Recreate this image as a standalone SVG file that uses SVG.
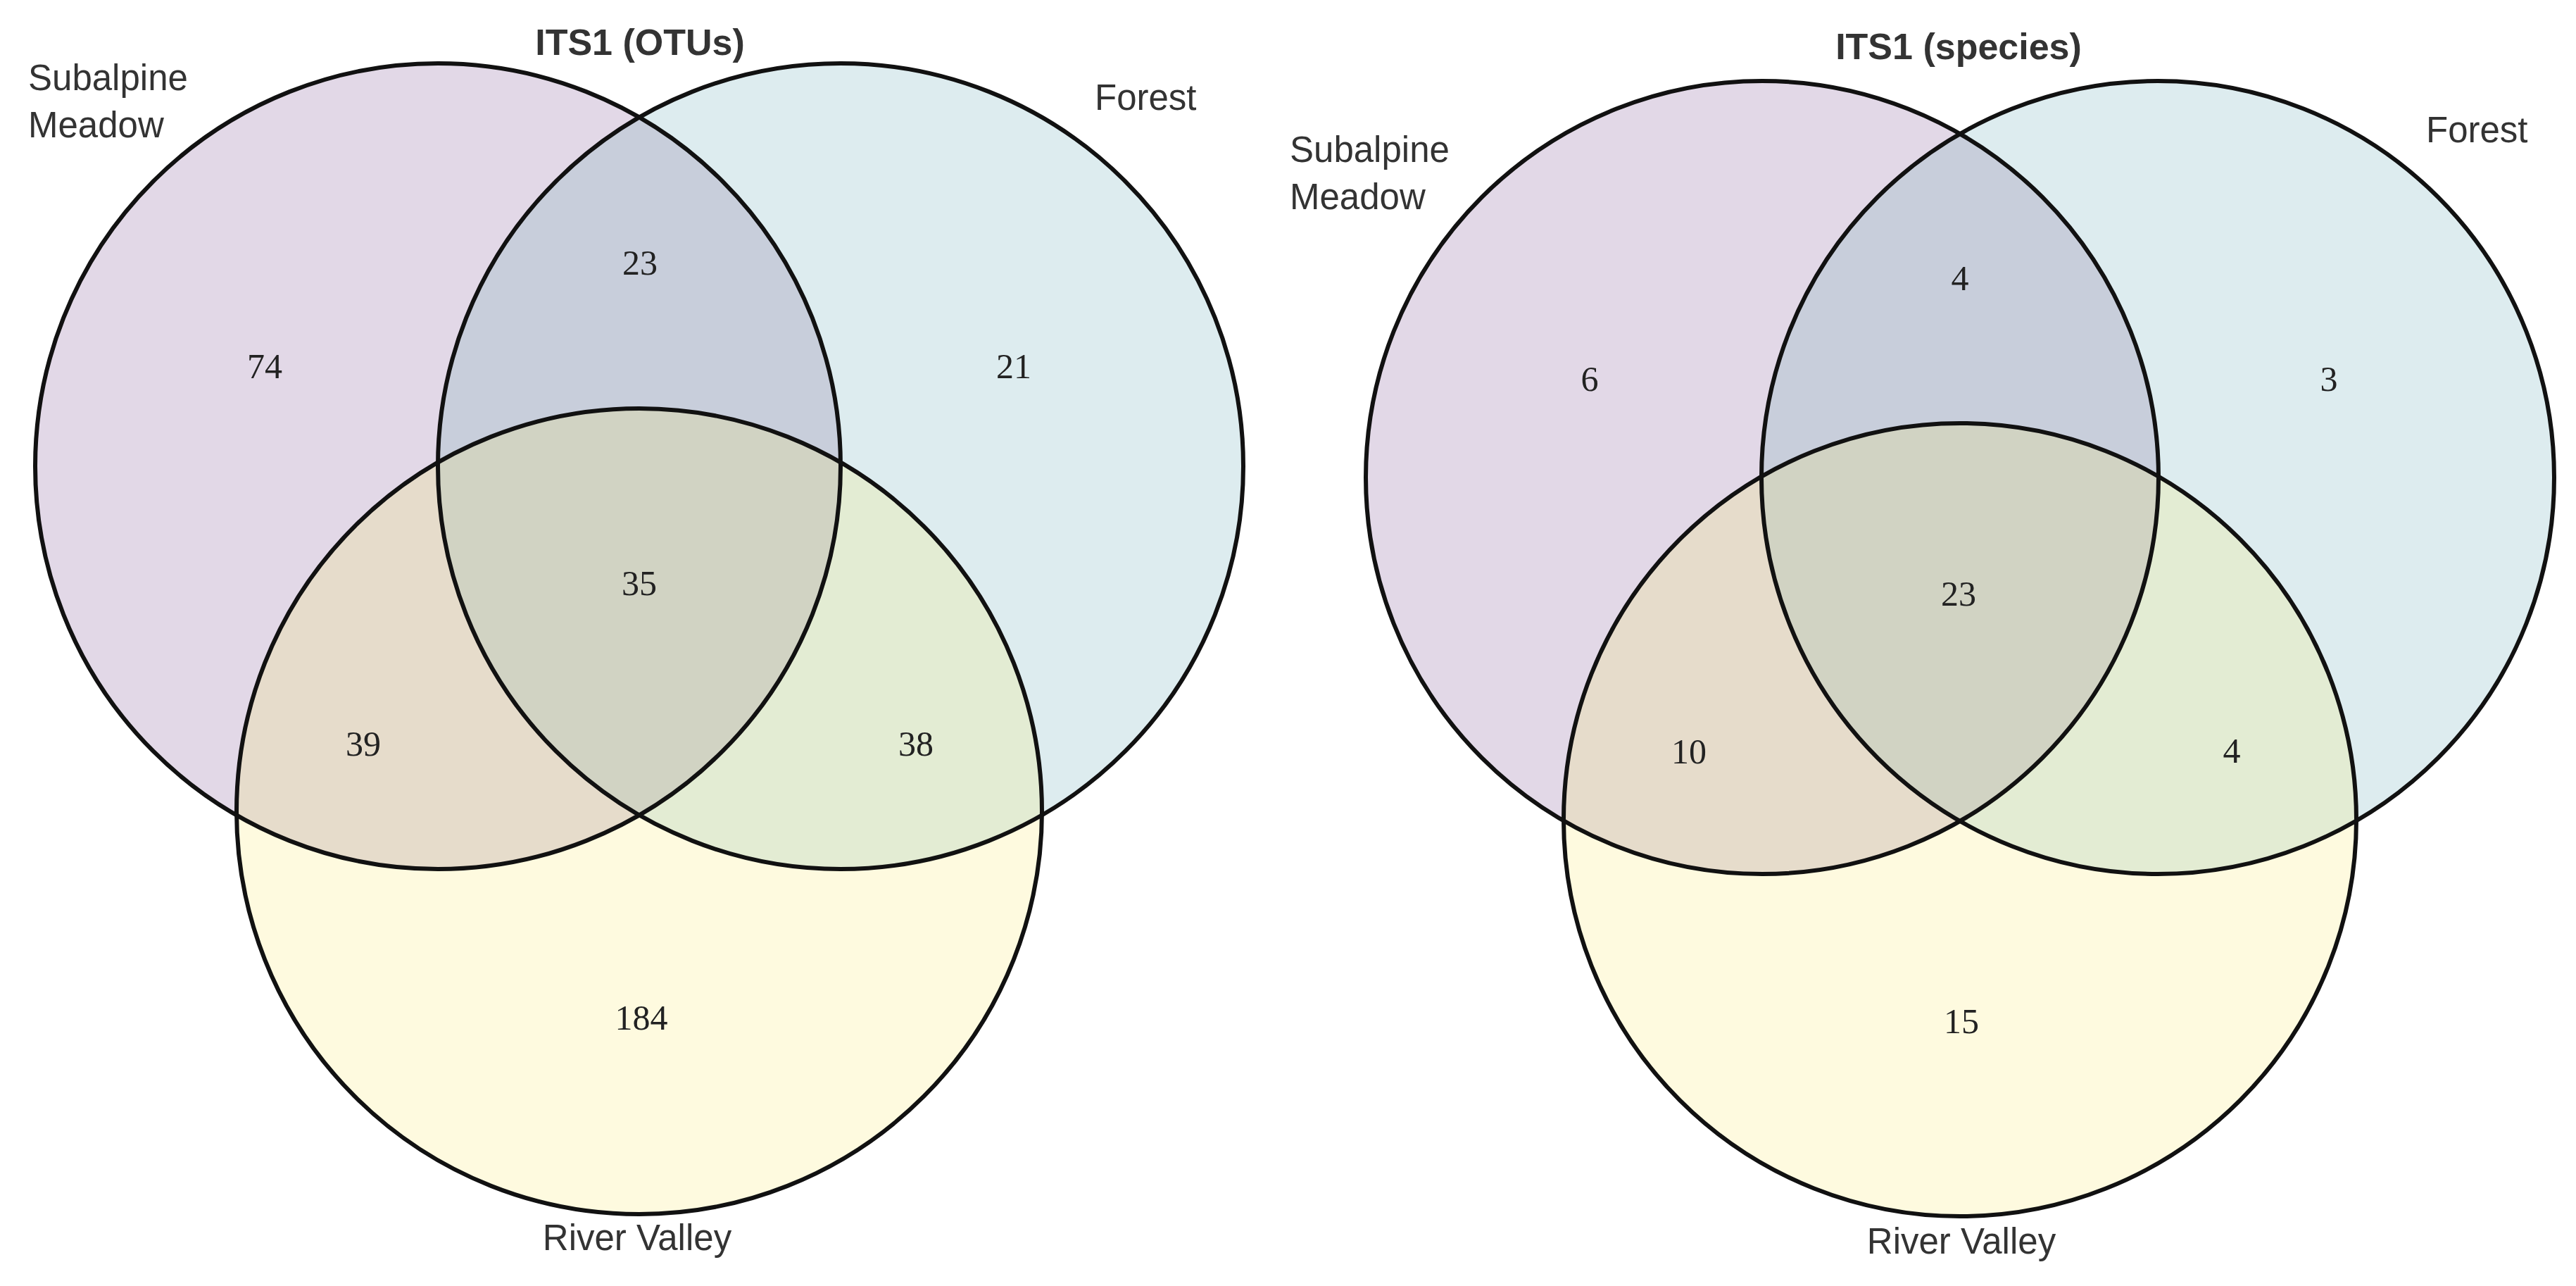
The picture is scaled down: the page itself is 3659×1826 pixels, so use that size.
<svg xmlns="http://www.w3.org/2000/svg" xmlns:xlink="http://www.w3.org/1999/xlink" width="3659" height="1826" viewBox="0 0 3659 1826">
<style>
.lbl{font-family:"Liberation Sans",Arial,sans-serif;font-size:51px;fill:#333;}
.ttl{font-family:"Liberation Sans",Arial,sans-serif;font-size:52px;font-weight:bold;fill:#333;text-anchor:middle;}
.num{font-family:"Liberation Serif","Times New Roman",serif;font-size:50px;fill:#222;text-anchor:middle;}
.ol{fill:none;stroke:#111;stroke-width:6;}
.fA{fill:#e2d8e7;}
.fB{fill:#ddecef;}
.fC{fill:#fefadf;}
.fAB{fill:#c8cedb;}
.fAC{fill:#e6dccb;}
.fBC{fill:#e3ecd3;}
.fABC{fill:#d1d3c3;}
</style>
<defs>
<circle id="A1" cx="622" cy="662" r="572"/>
<circle id="B1" cx="1194" cy="662" r="572"/>
<circle id="C1" cx="908" cy="1152" r="572"/>
<circle id="A2" cx="2503" cy="678" r="563"/>
<circle id="B2" cx="3065" cy="678" r="563"/>
<circle id="C2" cx="2784" cy="1164" r="563"/>
<clipPath id="cA1"><use xlink:href="#A1"/></clipPath>
<clipPath id="cB1"><use xlink:href="#B1"/></clipPath>
<clipPath id="cA2"><use xlink:href="#A2"/></clipPath>
<clipPath id="cB2"><use xlink:href="#B2"/></clipPath>
</defs>
<rect width="3659" height="1826" fill="#fff"/>

<g id="venn-otus">
<text class="ttl" x="909" y="78">ITS1 (OTUs)</text>
<g id="otus-subalpine-meadow">
<use xlink:href="#A1" class="fA"/>
<text class="lbl" x="40" y="128">Subalpine</text>
<text class="lbl" x="40" y="195">Meadow</text>
</g>
<g id="otus-forest">
<use xlink:href="#B1" class="fB"/>
<text class="lbl" x="1555" y="156">Forest</text>
</g>
<g id="otus-river-valley">
<use xlink:href="#C1" class="fC"/>
<text class="lbl" x="905" y="1775" text-anchor="middle">River Valley</text>
</g>
<g id="otus-overlaps">
<g clip-path="url(#cA1)"><use xlink:href="#B1" class="fAB"/><use xlink:href="#C1" class="fAC"/></g>
<g clip-path="url(#cB1)"><use xlink:href="#C1" class="fBC"/></g>
<g clip-path="url(#cA1)"><g clip-path="url(#cB1)"><use xlink:href="#C1" class="fABC"/></g></g>
</g>
<g id="otus-outlines">
<use xlink:href="#A1" class="ol"/>
<use xlink:href="#B1" class="ol"/>
<use xlink:href="#C1" class="ol"/>
</g>
<g id="otus-counts">
<text class="num" x="376" y="537">74</text>
<text class="num" x="909" y="390">23</text>
<text class="num" x="1440" y="537">21</text>
<text class="num" x="908" y="845">35</text>
<text class="num" x="516" y="1073">39</text>
<text class="num" x="1301" y="1073">38</text>
<text class="num" x="911" y="1462">184</text>
</g>
</g>

<g id="venn-species">
<text class="ttl" x="2782" y="84">ITS1 (species)</text>
<g id="species-subalpine-meadow">
<use xlink:href="#A2" class="fA"/>
<text class="lbl" x="1832" y="230">Subalpine</text>
<text class="lbl" x="1832" y="297">Meadow</text>
</g>
<g id="species-forest">
<use xlink:href="#B2" class="fB"/>
<text class="lbl" x="3446" y="202">Forest</text>
</g>
<g id="species-river-valley">
<use xlink:href="#C2" class="fC"/>
<text class="lbl" x="2786" y="1780" text-anchor="middle">River Valley</text>
</g>
<g id="species-overlaps">
<g clip-path="url(#cA2)"><use xlink:href="#B2" class="fAB"/><use xlink:href="#C2" class="fAC"/></g>
<g clip-path="url(#cB2)"><use xlink:href="#C2" class="fBC"/></g>
<g clip-path="url(#cA2)"><g clip-path="url(#cB2)"><use xlink:href="#C2" class="fABC"/></g></g>
</g>
<g id="species-outlines">
<use xlink:href="#A2" class="ol"/>
<use xlink:href="#B2" class="ol"/>
<use xlink:href="#C2" class="ol"/>
</g>
<g id="species-counts">
<text class="num" x="2258" y="555">6</text>
<text class="num" x="2784" y="412">4</text>
<text class="num" x="3308" y="555">3</text>
<text class="num" x="2782" y="860">23</text>
<text class="num" x="2399" y="1084">10</text>
<text class="num" x="3170" y="1083">4</text>
<text class="num" x="2786" y="1467">15</text>
</g>
</g>
</svg>
